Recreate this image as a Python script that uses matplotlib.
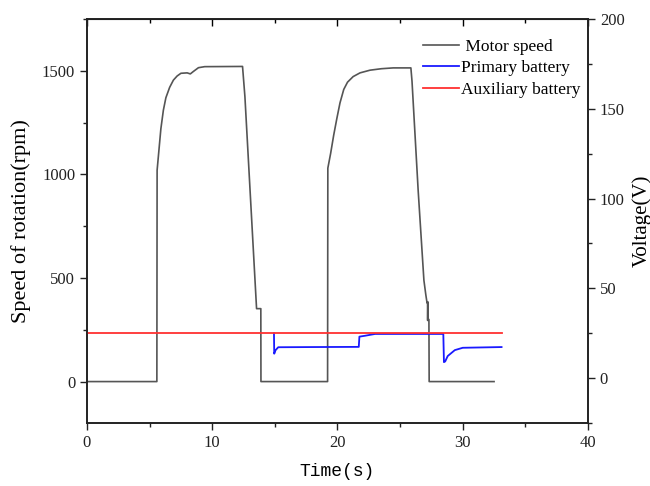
import matplotlib.pyplot as plt
from matplotlib.ticker import MultipleLocator

# motor speed (rpm) vs time (s)
speed_t = [0, 5.58, 5.6, 5.75, 5.9, 6.1, 6.3, 6.6, 6.9, 7.2, 7.5, 8.0, 8.25, 8.5, 8.9, 9.4, 12.42,
           12.61, 13.54, 13.88, 13.89, 19.21, 19.23, 19.45, 19.7, 19.95, 20.2, 20.5, 20.8, 21.25,
           21.8, 22.6, 23.5, 24.45, 25.86, 25.95, 26.44, 26.9, 27.05, 27.15, 27.19, 27.2, 27.22,
           27.24, 27.3, 27.32, 32.5]
speed = [0, 0, 1020, 1120, 1220, 1310, 1370, 1420, 1455, 1475, 1488, 1490, 1485, 1497, 1515, 1520, 1521,
         1375, 352, 352, 0, 0, 1030, 1100, 1190, 1270, 1345, 1410, 1445, 1472,
         1490, 1503, 1510, 1514, 1514, 1450, 924, 489, 420, 380, 384, 295, 384,
         300, 300, 0, 0]

# primary battery voltage (V)
prim_t = [14.93, 14.95, 15.05, 15.27, 18.0, 21.7, 21.75, 22.2, 23.0, 28.45, 28.5, 28.6, 28.8,
          29.37, 30.0, 33.1]
prim_v = [25.0, 13.6, 15.5, 17.2, 17.3, 17.4, 23.1, 23.6, 24.6, 24.6, 8.9, 9.3, 12.3,
          15.6, 16.9, 17.3]

# auxiliary battery voltage (V)
aux_t = [0, 33.1]
aux_v = [25.0, 25.0]

plt.rcParams['font.family'] = ['Liberation Serif', 'DejaVu Serif']

fig = plt.figure(figsize=(6.5, 4.86), dpi=100)
ax = fig.add_axes([0.1338, 0.1296, 0.7708, 0.8313])
ax2 = ax.twinx()

l1, = ax.plot(speed_t, speed, color="#555555", lw=1.2)
l2, = ax2.plot(prim_t, prim_v, color="#1a1aff", lw=1.3)
l3, = ax2.plot(aux_t, aux_v, color="#ff3030", lw=1.3)

ax.set_xlim(0, 40)
ax.set_ylim(-200, 1750)
ax2.set_ylim(-25, 200)

ax.xaxis.set_major_locator(MultipleLocator(10))
ax.xaxis.set_minor_locator(MultipleLocator(5))
ax.yaxis.set_major_locator(MultipleLocator(500))
ax.yaxis.set_minor_locator(MultipleLocator(250))
ax2.yaxis.set_major_locator(MultipleLocator(50))
ax2.yaxis.set_minor_locator(MultipleLocator(25))

for a in (ax, ax2):
    a.tick_params(which='both', direction='out', labelsize=12, colors='#222222', width=1)
    a.tick_params(which='major', length=5)
    a.tick_params(which='minor', length=3)
    for s in a.spines.values():
        s.set_linewidth(1.2)
        s.set_color('#222222')

top = ax.secondary_xaxis('top')
top.xaxis.set_major_locator(MultipleLocator(10))
top.xaxis.set_minor_locator(MultipleLocator(5))
top.tick_params(which='both', direction='in', labeltop=False, width=1)
top.tick_params(which='major', length=5)
top.tick_params(which='minor', length=3)

ax.set_xlabel("Time(s)", family=['Liberation Mono'], fontsize=13, labelpad=9)
ax.set_ylabel("Speed of rotation(rpm)", fontsize=16, labelpad=8)
ax2.set_ylabel("Voltage(V)", fontsize=15, labelpad=5)

ax2.legend([l1, l2, l3], [" Motor speed", "Primary battery", "Auxiliary battery"],
           loc='upper right', bbox_to_anchor=(0.893, 0.92), bbox_transform=fig.transFigure,
           borderpad=0, borderaxespad=0, frameon=False, fontsize=12.5,
           handlelength=2.1, handletextpad=0.1, labelspacing=0.3)

fig.savefig("out.png", dpi=100)
